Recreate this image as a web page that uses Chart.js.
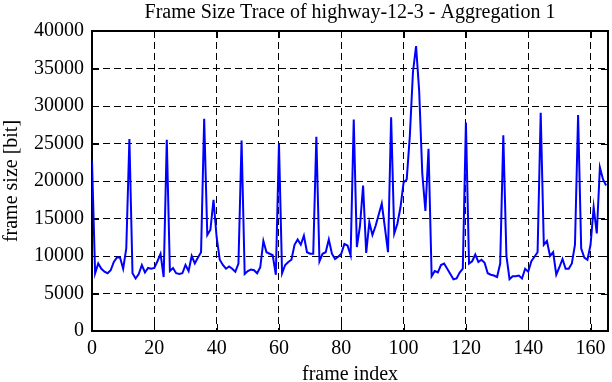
<!DOCTYPE html>
<html><head><meta charset="utf-8">
<script src="https://cdn.jsdelivr.net/npm/chart.js@4/dist/chart.umd.min.js"></script>
<style>html,body{margin:0;padding:0;background:#fff;}#wrap{width:612px;height:382px;}</style>
</head><body><div id="wrap"><canvas id="c" width="612" height="382" style="width:612px;height:382px"></canvas></div>
<script>
const chartTitle = "Frame Size Trace of highway-12-3 - Aggregation 1";
const xAxisTitle = "frame index";
const yAxisTitle = "frame size [bit]";
const xTickValues = [0, 20, 40, 60, 80, 100, 120, 140, 160];
const yTickValues = [0, 5000, 10000, 15000, 20000, 25000, 30000, 35000, 40000];
const frameSizes = [
  22700, 7700, 9000, 8300, 7900, 7700, 8100, 9200, 9800, 9800,
  8300, 11000, 25600, 7700, 7000, 7600, 8800, 7800, 8400, 8300,
  8400, 9300, 10300, 7200, 25500, 8000, 8400, 7700, 7600, 7700,
  8800, 8000, 10000, 9000, 9800, 10500, 28300, 12800, 13500, 17500,
  12500, 9500, 8800, 8300, 8600, 8300, 7900, 9000, 25400, 7600,
  8000, 8200, 8100, 7700, 8500, 12000, 10500, 10300, 10100, 7500,
  25000, 7700, 8800, 9200, 9500, 11500, 12200, 11500, 12700, 10500,
  10300, 10300, 25900, 9300, 10300, 10500, 12200, 10300, 9600, 9900,
  10300, 11600, 11400, 10100, 28200, 11200, 14000, 19400, 10400, 14500,
  12800, 14000, 15500, 17000, 13800, 10500, 28500, 13000, 14300, 16500,
  19800, 20200, 26000, 34500, 38000, 32000, 21000, 16000, 24300, 7300,
  8000, 7800, 8800, 9000, 8300, 7600, 6900, 7000, 7800, 8300,
  27800, 9000, 9300, 10200, 9200, 9500, 9100, 7700, 7500, 7400,
  7200, 9000, 26100, 10000, 6900, 7300, 7300, 7400, 7000, 8300,
  7900, 9300, 9900, 10500, 29100, 11500, 12000, 10000, 10500, 7500,
  8500, 9600, 8300, 8300, 9000, 11500, 28800, 11000, 9800, 9500,
  11500, 16500, 13000, 21800, 20200, 19400
];

const FONT = '"Liberation Serif", "Times New Roman", serif';
const FS = 20;
Chart.defaults.color = '#000';
Chart.defaults.font.family = FONT;
Chart.defaults.font.size = FS;

const framePlugin = {
  id: 'frameBox',
  beforeDatasetsDraw(chart) {
    const {ctx, chartArea: a, scales: {x, y}} = chart;
    ctx.save();
    ctx.strokeStyle = '#000';
    ctx.lineWidth = 1;
    ctx.beginPath();
    xTickValues.forEach(v => {
      const px = Math.round(x.getPixelForValue(v)) + 0.5;
      ctx.moveTo(px, a.bottom); ctx.lineTo(px, a.bottom - 7);
      ctx.moveTo(px, a.top); ctx.lineTo(px, a.top + 7);
    });
    yTickValues.forEach(v => {
      const py = Math.round(y.getPixelForValue(v)) + 0.5;
      ctx.moveTo(a.left, py); ctx.lineTo(a.left + 7, py);
      ctx.moveTo(a.right, py); ctx.lineTo(a.right - 7, py);
    });
    ctx.stroke();
    ctx.lineWidth = 2;
    ctx.strokeRect(a.left, a.top, a.right - a.left, a.bottom - a.top);
    ctx.restore();
  },
  afterDraw(chart) {
    const {ctx, chartArea: a} = chart;
    ctx.save();
    ctx.fillStyle = '#000';
    ctx.font = FS + 'px ' + FONT;
    ctx.textAlign = 'center';
    ctx.textBaseline = 'alphabetic';
    ctx.fillText(chartTitle, (a.left + a.right) / 2, 18);
    ctx.restore();
  }
};

new Chart(document.getElementById('c'), {
  type: 'line',
  data: {
    datasets: [{
      data: frameSizes.map((v, i) => ({x: i, y: v})),
      borderColor: '#0000ff',
      borderWidth: 2,
      pointRadius: 0,
      tension: 0,
      fill: false
    }]
  },
  options: {
    responsive: false,
    animation: false,
    devicePixelRatio: 1,
    layout: {padding: {left: 0, right: 4, top: 31, bottom: 0}},
    plugins: {
      legend: {display: false},
      tooltip: {enabled: false},
      title: {display: false}
    },
    scales: {
      x: {
        type: 'linear',
        min: 0,
        max: 165.6,
        afterFit: s => { s.height = 51; },
        afterBuildTicks: s => { s.ticks = xTickValues.map(v => ({value: v})); },
        ticks: {stepSize: 20, includeBounds: false, padding: 6, maxRotation: 0, color: '#000', font: {size: FS}, callback: v => String(v)},
        grid: {color: '#000', lineWidth: 1, drawTicks: false},
        border: {display: false, dash: [7, 4]},
        title: {display: true, text: xAxisTitle, color: '#000', font: {size: FS, lineHeight: 1.2}, padding: {top: 0, bottom: -5}}
      },
      y: {
        type: 'linear',
        min: 0,
        max: 40000,
        afterFit: s => { s.width = 92; },
        afterBuildTicks: s => { s.ticks = yTickValues.map(v => ({value: v})); },
        ticks: {stepSize: 5000, padding: 8, color: '#000', font: {size: FS}, callback: v => String(v)},
        grid: {color: '#000', lineWidth: 1, drawTicks: false},
        border: {display: false, dash: [7, 4]},
        title: {display: true, text: yAxisTitle, color: '#000', font: {size: FS, lineHeight: 1.2}, padding: {top: 0, bottom: 0}}
      }
    }
  },
  plugins: [framePlugin]
});
</script>
</body></html>
